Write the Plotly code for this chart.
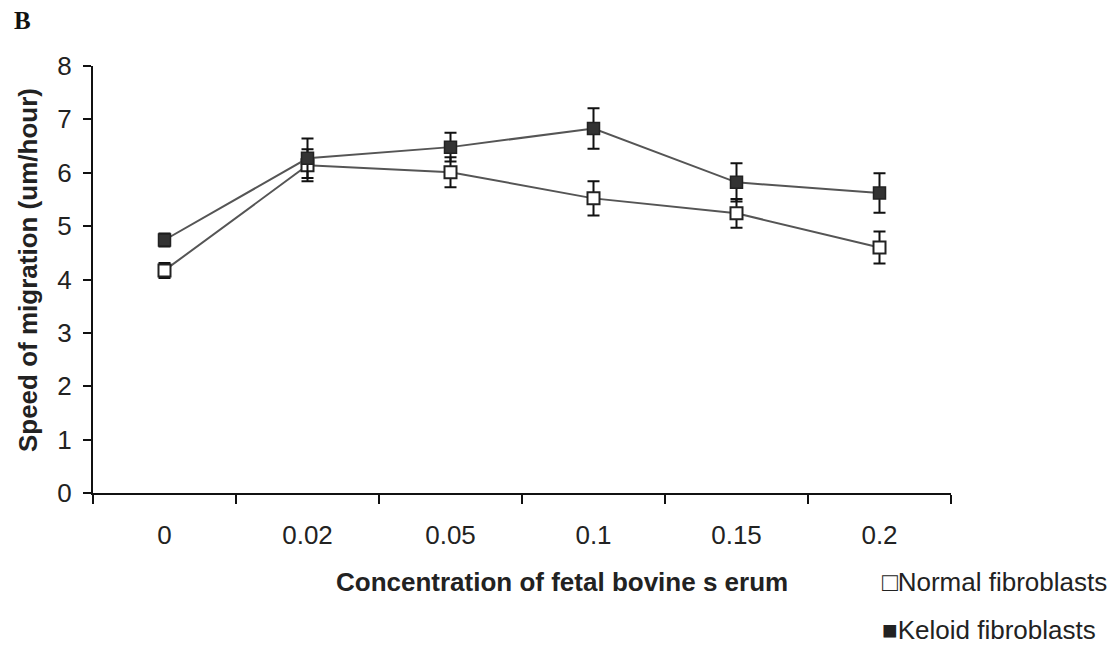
import plotly.graph_objects as go

categories = ["0", "0.02", "0.05", "0.1", "0.15", "0.2"]
normal_vals = [4.17, 6.14, 6.01, 5.52, 5.24, 4.60]
normal_err = [0.14, 0.30, 0.28, 0.32, 0.27, 0.30]
keloid_vals = [4.74, 6.27, 6.48, 6.83, 5.82, 5.62]
keloid_err = [0.12, 0.37, 0.27, 0.38, 0.36, 0.37]
y_ticks = [0, 1, 2, 3, 4, 5, 6, 7, 8]
series_names = ["Normal fibroblasts", "Keloid fibroblasts"]

font_sans = "Liberation Sans, Arial, sans-serif"
txt = "#222222"

fig = go.Figure()
fig.add_trace(go.Scatter(
    x=categories, y=normal_vals, mode="lines+markers", name=series_names[0], showlegend=False,
    line=dict(color="#555555", width=2),
    marker=dict(symbol="square", size=12, color="white", line=dict(color="#222222", width=2)),
    error_y=dict(type="data", array=normal_err, color="#111111", thickness=2, width=6),
))
fig.add_trace(go.Scatter(
    x=categories, y=keloid_vals, mode="lines+markers", name=series_names[1], showlegend=False,
    line=dict(color="#555555", width=2),
    marker=dict(symbol="square", size=12, color="#333333", line=dict(color="#222222", width=1.5)),
    error_y=dict(type="data", array=keloid_err, color="#111111", thickness=2, width=6),
))

fig.update_layout(
    width=1115, height=646,
    margin=dict(l=93, r=164, t=66, b=153),
    paper_bgcolor="white", plot_bgcolor="white",
    showlegend=False,
    font=dict(family=font_sans, size=26, color=txt),
)
fig.update_xaxes(
    type="category", range=[-0.5, 5.5], showgrid=False, zeroline=False,
    showline=True, linecolor="#111111", linewidth=2,
    ticks="outside", tickson="boundaries", ticklen=9, tickcolor="#111111", tickwidth=2,
    ticklabelstandoff=18, tickfont=dict(size=26, family=font_sans, color=txt),
)
fig.update_yaxes(
    range=[0, 8], tickvals=y_ticks, showgrid=False, zeroline=False,
    showline=True, linecolor="#111111", linewidth=2,
    ticks="outside", ticklen=8, tickcolor="#111111", tickwidth=2,
    ticklabelstandoff=6, tickfont=dict(size=26, family=font_sans, color=txt),
)

fig.add_annotation(text="<b>Speed of migration (um/hour)</b>", xref="paper", yref="paper",
                   x=-0.0758, y=0.522, xanchor="center", yanchor="middle", textangle=-90,
                   showarrow=False, font=dict(size=26, family=font_sans, color=txt))
fig.add_annotation(text="<b>Concentration of fetal bovine s erum</b>", xref="paper", yref="paper",
                   x=0.547, y=-0.2084, xanchor="center", yanchor="middle",
                   showarrow=False, font=dict(size=26, family=font_sans, color=txt))
fig.add_annotation(text="<b>B</b>", xref="paper", yref="paper",
                   x=-0.0944, y=1.1077, xanchor="left", yanchor="middle",
                   showarrow=False, font=dict(size=25, family="Liberation Serif, serif", color="#111111"))
fig.add_annotation(text="□" + series_names[0], xref="paper", yref="paper",
                   x=0.917, y=-0.2084, xanchor="left", yanchor="middle",
                   showarrow=False, font=dict(size=26, family=font_sans, color=txt))
fig.add_annotation(text="■" + series_names[1], xref="paper", yref="paper",
                   x=0.917, y=-0.3208, xanchor="left", yanchor="middle",
                   showarrow=False, font=dict(size=26, family=font_sans, color=txt))

fig.write_html("out.html", config={"displayModeBar": False},
               post_script="document.body.style.margin='0';")
